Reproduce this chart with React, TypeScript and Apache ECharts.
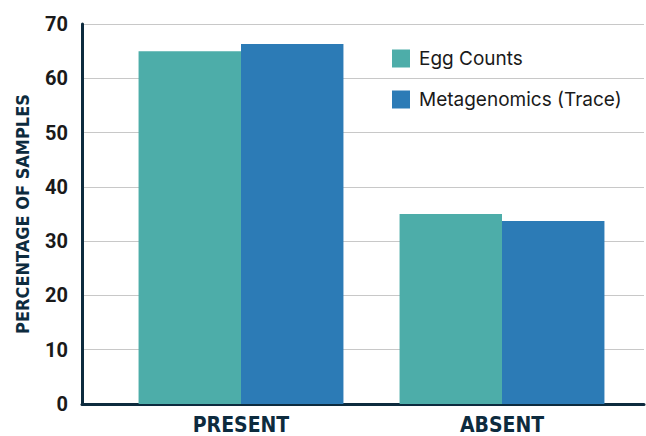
import React, { useEffect, useRef } from "react";
import * as echarts from "echarts";

const categories = ["PRESENT", "ABSENT"];
const eggCounts = [65.0, 35.0];
const metagenomics = [66.3, 33.7];
const seriesNames = ["Egg Counts", "Metagenomics (Trace)"];
const colors = ["#4dada9", "#2c7bb6"];

export default function App() {
  const ref = useRef<HTMLDivElement>(null);
  useEffect(() => {
    if (!ref.current) return;
    const chart = echarts.init(ref.current, undefined, { renderer: "svg" });
    const navy = "#0d2b3e";
    chart.setOption({
      animation: false,
      backgroundColor: "#ffffff",
      legend: {
        orient: "vertical",
        left: 392,
        top: 49,
        padding: 0,
        itemWidth: 18,
        itemHeight: 18,
        itemGap: 22,
        icon: "rect",
        data: seriesNames,
        textStyle: {
          fontFamily: "Inter",
          fontSize: 19,
          color: "#1a1a1a",
          padding: [0, 0, 0, 4],
        },
      },
      grid: [
        { left: 82, right: 2, top: 24, bottom: 32 },
        { left: 110.5, right: 13.5, top: 24, bottom: 32 },
      ],
      xAxis: [
        {
          gridIndex: 0,
          type: "value",
          min: 0,
          max: 1,
          axisLine: { show: true, lineStyle: { color: navy, width: 3 } },
          axisTick: { show: false },
          axisLabel: { show: false },
          splitLine: { show: false },
        },
        {
          gridIndex: 1,
          type: "category",
          data: categories,
          axisLine: { show: false },
          axisTick: { show: false },
          axisLabel: {
            margin: 10,
            fontFamily: "DejaVu Sans Condensed",
            fontWeight: "bold",
            fontSize: 21,
            color: navy,
          },
        },
      ],
      yAxis: [
        {
          gridIndex: 0,
          type: "value",
          min: 0,
          max: 70,
          interval: 10,
          name: "PERCENTAGE OF SAMPLES",
          nameLocation: "middle",
          nameGap: 51,
          nameTextStyle: {
            fontFamily: "DejaVu Sans Condensed",
            fontWeight: "bold",
            fontSize: 18,
            color: navy,
          },
          axisLine: { show: true, lineStyle: { color: navy, width: 3 } },
          axisTick: { show: false },
          axisLabel: {
            margin: 14,
            fontFamily: "Roboto",
            fontWeight: "bold",
            fontSize: 20,
            color: "#1a1a1a",
          },
          splitLine: { show: true, lineStyle: { color: "#c8c8c8", width: 1 } },
        },
        {
          gridIndex: 1,
          type: "value",
          min: 0,
          max: 70,
          show: false,
          splitLine: { show: false },
        },
      ],
      series: [
        {
          name: seriesNames[0],
          type: "bar",
          xAxisIndex: 1,
          yAxisIndex: 1,
          data: eggCounts,
          barGap: "0%",
          barCategoryGap: "21.5%",
          itemStyle: { color: colors[0] },
        },
        {
          name: seriesNames[1],
          type: "bar",
          xAxisIndex: 1,
          yAxisIndex: 1,
          data: metagenomics,
          barGap: "0%",
          barCategoryGap: "21.5%",
          itemStyle: { color: colors[1] },
        },
      ],
    });
    return () => chart.dispose();
  }, []);
  return (
    <div
      ref={ref}
      style={{ position: "fixed", left: 0, top: 0, width: 646, height: 436 }}
    />
  );
}
